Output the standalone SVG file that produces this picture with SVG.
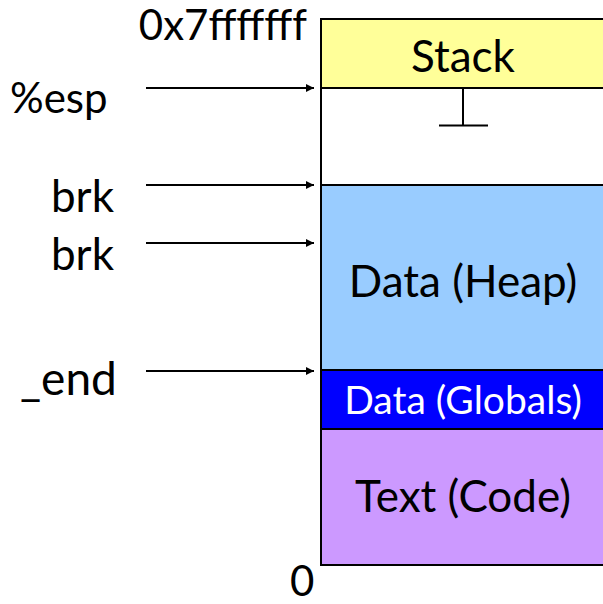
<svg xmlns="http://www.w3.org/2000/svg" width="603" height="604" viewBox="0 0 603 604">
  <style>
    .seg { stroke: #000; stroke-width: 2; }
    .lbl { font-family: Lato, "Liberation Sans", sans-serif; font-size: 44px; fill: #000; }
    .mid { text-anchor: middle; }
    .end { text-anchor: end; }
    .conn { stroke: #000; stroke-width: 2; fill: none; marker-end: url(#arrow); }
  </style>
  <defs>
    <marker id="arrow" viewBox="0 0 10 10" refX="10" refY="5" markerWidth="6" markerHeight="4" orient="auto" markerUnits="strokeWidth">
      <path d="M0,0 L10,5 L0,10 z" fill="#000"/>
    </marker>
  </defs>
  <rect width="603" height="604" fill="#fff"/>

  <!-- memory segments -->
  <g id="stack">
    <rect class="seg" x="321" y="19" width="300" height="69" fill="#FFFF99"/>
    <text class="lbl mid" x="463" y="72">Stack</text>
  </g>
  <g id="free">
    <rect class="seg" x="321" y="88" width="300" height="97" fill="#fff"/>
    <path d="M463,88 V126 M439,125.5 H488" stroke="#000" stroke-width="2" fill="none"/>
  </g>
  <g id="heap">
    <rect class="seg" x="321" y="185" width="300" height="185" fill="#99CCFF"/>
    <text class="lbl mid" x="463" y="297">Data (Heap)</text>
  </g>
  <g id="globals">
    <rect class="seg" x="321" y="370" width="300" height="59" fill="#0000FF"/>
    <text class="lbl mid" x="463" y="414" style="fill:#fff;font-size:39px">Data (Globals)</text>
  </g>
  <g id="code">
    <rect class="seg" x="321" y="429" width="300" height="136" fill="#CC99FF"/>
    <text class="lbl mid" x="463" y="512">Text (Code)</text>
  </g>

  <!-- address labels -->
  <g id="labels">
    <text class="lbl end" x="307" y="40" style="font-size:42px">0x7fffffff</text>
    <text class="lbl" x="10" y="113" style="font-size:42px">%esp</text>
    <text class="lbl end" x="114" y="212">brk</text>
    <text class="lbl end" x="114" y="270">brk</text>
    <text class="lbl" x="20" y="395" style="font-size:46px">_end</text>
    <text class="lbl" x="290" y="596" style="font-size:42px">0</text>
  </g>

  <!-- pointers -->
  <g id="connectors">
    <line class="conn" x1="146" y1="88" x2="314" y2="88"/>
    <line class="conn" x1="146" y1="185" x2="314" y2="185"/>
    <line class="conn" x1="146" y1="243" x2="314" y2="243"/>
    <line class="conn" x1="146" y1="371" x2="314" y2="371"/>
  </g>
</svg>
